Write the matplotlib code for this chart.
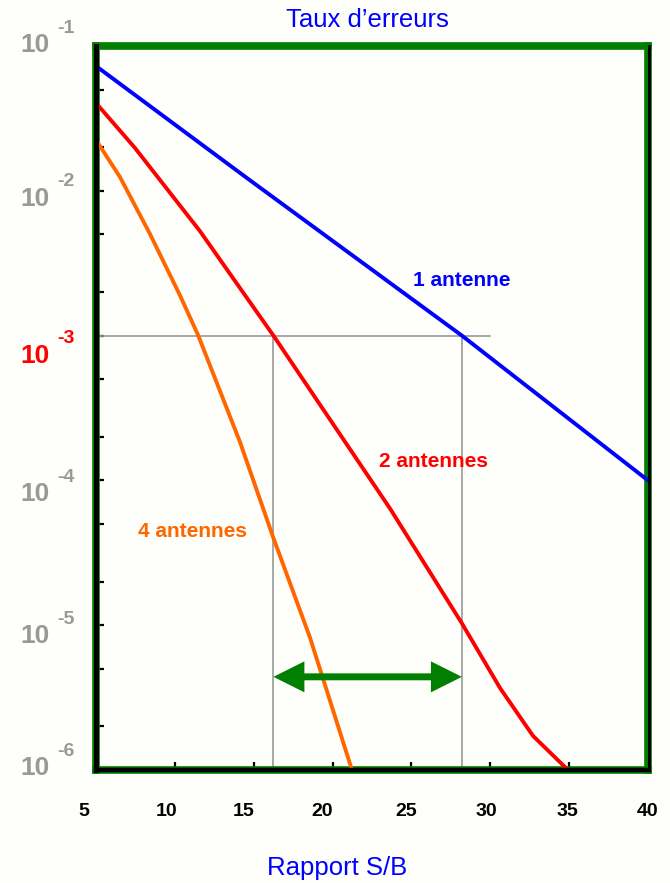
import matplotlib
matplotlib.use("Agg")
import matplotlib.pyplot as plt
from matplotlib.ticker import LogLocator, NullFormatter
from matplotlib.transforms import ScaledTranslation, blended_transform_factory

plt.rcParams["font.family"] = ["Liberation Sans", "DejaVu Sans"]

# Signal-to-noise ratio (dB) and error rate for each receiver configuration
snr_1ant = [5.0, 14.57, 28.2, 40.0]
ber_1ant = [0.0727, 0.01225, 0.001, 1.0e-4]

snr_2ant = [5.0, 7.47, 11.59, 16.25, 23.64, 28.2, 30.62, 32.71, 34.93]
ber_2ant = [0.0404, 0.01977, 5.27e-3, 1.0e-3, 6.4e-5, 1.03e-5, 3.68e-6,
            1.72e-6, 1.0e-6]

snr_4ant = [5.0, 6.52, 8.42, 10.33, 11.47, 14.13, 16.25, 18.57, 21.23]
ber_4ant = [0.02244, 0.01245, 5.04e-3, 1.89e-3, 1.01e-3, 1.84e-4, 4.0e-5,
            8.2e-6, 1.0e-6]

# Reference error rate and the SNR each configuration needs to reach it
target_ber = 1e-3
target_snr_end = 30
snr_at_target = [16.25, 28.2]
gain_arrow_ber = 4.4e-6

x_ticks = [5, 10, 15, 20, 25, 30, 35, 40]
y_exponents = [-1, -2, -3, -4, -5, -6]
y_label_colors = ["#999999", "#999999", "#FF0000", "#999999", "#999999", "#999999"]
y_label_dy = [1, -8, -20, -14, -11, 2]          # vertical nudge in pixels
x_label_dx = [-12, -8, -10, -10, -5, -4, -2, 0]  # horizontal nudge in pixels

curve_labels = ["1 antenne", "2 antennes", "4 antennes"]
curve_colors = ["#0000FF", "#FF0000", "#FF6600"]
label_pos = [(28.2, 2.39e-3), (26.4, 1.35e-4), (11.1, 4.44e-5)]

GREEN = "#007F00"
GRAY = "#999999"
BG = "#FEFEFA"

fig = plt.figure(figsize=(6.70, 8.83), dpi=100, facecolor=BG)
ax = fig.add_axes([0.14328, 0.12797, 0.82388, 0.81993])
ax.set_facecolor(BG)
ax.set_yscale("log")
ax.set_xlim(5, 40)
ax.set_ylim(1e-6, 1e-1)

# reference lines at the target error rate
ax.plot([5, target_snr_end], [target_ber, target_ber], color=GRAY, lw=1.2, zorder=2)
for s in snr_at_target:
    ax.plot([s, s], [1e-6, target_ber], color=GRAY, lw=1.2, zorder=2)

# error-rate curves
for xs, ys, c in [(snr_1ant, ber_1ant, curve_colors[0]),
                  (snr_2ant, ber_2ant, curve_colors[1]),
                  (snr_4ant, ber_4ant, curve_colors[2])]:
    ax.plot(xs, ys, color=c, lw=2.8, solid_capstyle="round",
            solid_joinstyle="round", zorder=3)

for txt, c, (lx, ly) in zip(curve_labels, curve_colors, label_pos):
    ax.text(lx, ly, txt, color=c, fontsize=15, fontweight="bold",
            ha="center", va="center", zorder=4)

# diversity gain arrow: filled heads, then a shaft that stops inside them
arrow_a = (snr_at_target[0], gain_arrow_ber)
arrow_b = (snr_at_target[1], gain_arrow_ber)
ax.annotate("", xy=arrow_b, xytext=arrow_a,
            arrowprops=dict(arrowstyle="<|-|>,head_length=1.0,head_width=0.5",
                            mutation_scale=22.3, lw=0, color=GREEN,
                            shrinkA=0, shrinkB=0),
            zorder=4)
ax.annotate("", xy=arrow_b, xytext=arrow_a,
            arrowprops=dict(arrowstyle="-", lw=5, color=GREEN,
                            shrinkA=15, shrinkB=15),
            zorder=4)

# frame: green box with black axis lines
for side in ["left", "right", "top", "bottom"]:
    ax.spines[side].set_color(GREEN)
    ax.spines[side].set_linewidth(5.5)
ax.plot([0, 0], [0, 1], transform=ax.transAxes, color="black", lw=3.6,
        clip_on=False, zorder=6)
ax.plot([0, 1], [0, 0], transform=ax.transAxes, color="black", lw=3.2,
        clip_on=False, zorder=6)
ax.plot([1.002, 1.002], [0, 1], transform=ax.transAxes, color="black", lw=2.2,
        clip_on=False, zorder=6)

# ticks
ax.set_xticks(x_ticks)
ax.set_xticklabels([str(t) for t in x_ticks])
ax.tick_params(axis="x", direction="in", length=6, width=1.6, color="black",
               labelsize=14, pad=24)
for lab in ax.get_xticklabels():
    lab.set_fontweight("bold")
for lab, dx in zip(ax.get_xticklabels(), x_label_dx):
    lab.set_transform(lab.get_transform() + ScaledTranslation(dx / 100, 0, fig.dpi_scale_trans))

ax.set_yticks([10.0 ** e for e in y_exponents])
ax.set_yticklabels([""] * len(y_exponents))
ax.yaxis.set_minor_locator(LogLocator(base=10, subs=(2, 5)))
ax.yaxis.set_minor_formatter(NullFormatter())
ax.tick_params(axis="y", which="both", direction="in", length=6, width=1.6,
               color="black")

# power-of-ten labels on the left
trans = blended_transform_factory(ax.transAxes, ax.transData)
for e, c, dy in zip(y_exponents, y_label_colors, y_label_dy):
    ax.annotate("10", xy=(0, 10.0 ** e), xycoords=trans,
                xytext=(-61 * 0.72, dy * 0.72), textcoords="offset points",
                ha="center", va="center", fontsize=19, fontweight="bold",
                color=c, annotation_clip=False)
    ax.annotate(str(e), xy=(0, 10.0 ** e), xycoords=trans,
                xytext=(-30 * 0.72, (dy + 17) * 0.72), textcoords="offset points",
                ha="center", va="center", fontsize=14, fontweight="bold",
                color=c, annotation_clip=False)

ax.text(0.491, 1.036, "Taux d’erreurs", transform=ax.transAxes, ha="center",
        va="center", fontsize=18.5, color="#0000FF")
ax.text(0.4366, -0.1354, "Rapport S/B", transform=ax.transAxes, ha="center",
        va="center", fontsize=18.5, color="#0000FF")

fig.savefig("out.png", dpi=100, facecolor=BG)
